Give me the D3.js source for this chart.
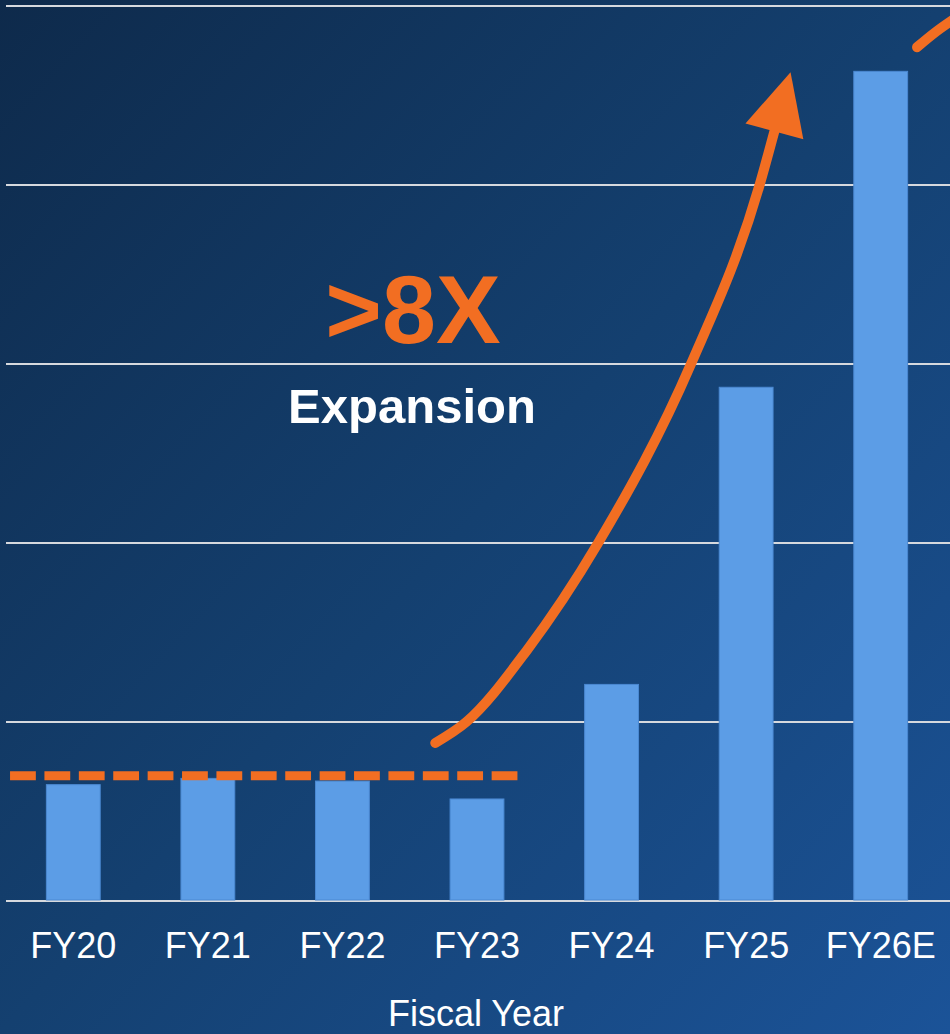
<!DOCTYPE html>
<head>
  <meta charset="utf-8">
  <script src="https://d3js.org/d3.v7.min.js"></script>
  <style>
    body { margin:0; background:#133a66; }
    svg { display:block; }
    text { font-family: "Liberation Sans", Arial, sans-serif; }
  </style>
</head>
<body>
<script>
  // data (values in grid units, gridline every 1)
  var years = ["FY20", "FY21", "FY22", "FY23", "FY24", "FY25", "FY26E"];
  var values = [0.65, 0.685, 0.67, 0.57, 1.21, 2.87, 4.635];
  var gridTicks = [0, 1, 2, 3, 4, 5];
  var baselineLevel = 0.70;
  var baselineSpan = [-0.47, 3.33];   // in year-index units
  // growth arrow, [year index, value]
  var arrowPts = [[2.69, 0.883], [2.92, 1.0], [3.37, 1.40], [3.90, 2.0], [4.59, 3.0], [5.10, 4.0], [5.21, 4.3]];
  var arrowTip = [5.33, 4.63];
  var arrow2Pts = [[6.27, 4.77], [6.4, 4.85], [6.55, 4.93]];

  var W = 950, H = 1034;

  var svg = d3.select("body").append("svg")
    .attr("width", W)
    .attr("height", H);

  // background gradient
  var defs = svg.append("defs");
  var grad = defs.append("linearGradient")
    .attr("id", "bg")
    .attr("x1", "0%").attr("y1", "0%")
    .attr("x2", "100%").attr("y2", "100%");
  grad.append("stop").attr("offset", "0%").attr("stop-color", "#0e2a4b");
  grad.append("stop").attr("offset", "50%").attr("stop-color", "#144070");
  grad.append("stop").attr("offset", "100%").attr("stop-color", "#1b5398");

  svg.append("rect")
    .attr("width", W).attr("height", H)
    .attr("fill", "url(#bg)");

  var x = d3.scaleBand()
    .domain(years)
    .range([6, 948])
    .paddingInner(0.6)
    .paddingOuter(0.3);

  var y = d3.scaleLinear()
    .domain([0, 5])
    .range([901, 6]);

  // continuous index scale for annotations
  var xi = d3.scaleLinear()
    .domain([0, years.length - 1])
    .range([x(years[0]) + x.bandwidth() / 2, x(years[years.length - 1]) + x.bandwidth() / 2]);

  // gridlines
  svg.append("g")
    .selectAll("line")
    .data(gridTicks)
    .enter().append("line")
    .attr("x1", 6).attr("x2", W)
    .attr("y1", function(d) { return y(d); })
    .attr("y2", function(d) { return y(d); })
    .attr("stroke", "#d6d9de")
    .attr("stroke-width", 2);

  // bars
  svg.append("g")
    .selectAll("rect")
    .data(values)
    .enter().append("rect")
    .attr("x", function(d, i) { return x(years[i]); })
    .attr("y", function(d) { return y(d); })
    .attr("width", x.bandwidth())
    .attr("height", function(d) { return y(0) - y(d) - 1; })
    .attr("fill", "#5c9de6")
    .attr("stroke", "#4b89d2")
    .attr("stroke-width", 1);

  // dashed baseline
  svg.append("line")
    .attr("x1", xi(baselineSpan[0]))
    .attr("x2", xi(baselineSpan[1]))
    .attr("y1", y(baselineLevel))
    .attr("y2", y(baselineLevel))
    .attr("stroke", "#f26e22")
    .attr("stroke-width", 9)
    .attr("stroke-dasharray", "25.8,8.6");

  var line = d3.line()
    .x(function(d) { return xi(d[0]); })
    .y(function(d) { return y(d[1]); })
    .curve(d3.curveMonotoneX);

  svg.append("path")
    .attr("d", line(arrowPts))
    .attr("fill", "none")
    .attr("stroke", "#f26e22")
    .attr("stroke-width", 10)
    .attr("stroke-linecap", "round");

  // arrow head
  var base = [xi(arrowPts[arrowPts.length - 1][0]), y(arrowPts[arrowPts.length - 1][1])];
  var tip = [xi(arrowTip[0]), y(arrowTip[1])];
  var dx = tip[0] - base[0], dy = tip[1] - base[1];
  var len = Math.sqrt(dx * dx + dy * dy);
  var nx = -dy / len, ny = dx / len, half = 30;
  svg.append("path")
    .attr("d", "M" + tip[0] + "," + tip[1] +
      "L" + (base[0] + nx * half) + "," + (base[1] + ny * half) +
      "L" + (base[0] - nx * half) + "," + (base[1] - ny * half) + "Z")
    .attr("fill", "#f26e22");

  svg.append("path")
    .attr("d", line(arrow2Pts))
    .attr("fill", "none")
    .attr("stroke", "#f26e22")
    .attr("stroke-width", 10)
    .attr("stroke-linecap", "round");

  // annotation text
  svg.append("text")
    .attr("x", 413)
    .attr("y", 343)
    .attr("text-anchor", "middle")
    .attr("font-size", 97)
    .attr("font-weight", "bold")
    .attr("fill", "#f26e22")
    .text(">8X");

  svg.append("text")
    .attr("x", 412)
    .attr("y", 423)
    .attr("text-anchor", "middle")
    .attr("font-size", 49)
    .attr("font-weight", "bold")
    .attr("fill", "#ffffff")
    .text("Expansion");

  // x axis labels
  var xAxis = d3.axisBottom(x).tickSize(0).tickPadding(0);
  var gx = svg.append("g")
    .attr("transform", "translate(0,958)")
    .call(xAxis);
  gx.select(".domain").remove();
  gx.selectAll("text")
    .attr("dy", 0)
    .attr("font-size", 36)
    .attr("font-family", "Liberation Sans, Arial, sans-serif")
    .attr("fill", "#ffffff");

  svg.append("text")
    .attr("x", 476)
    .attr("y", 1026)
    .attr("text-anchor", "middle")
    .attr("font-size", 36)
    .attr("fill", "#ffffff")
    .text("Fiscal Year");
</script>
</body>
